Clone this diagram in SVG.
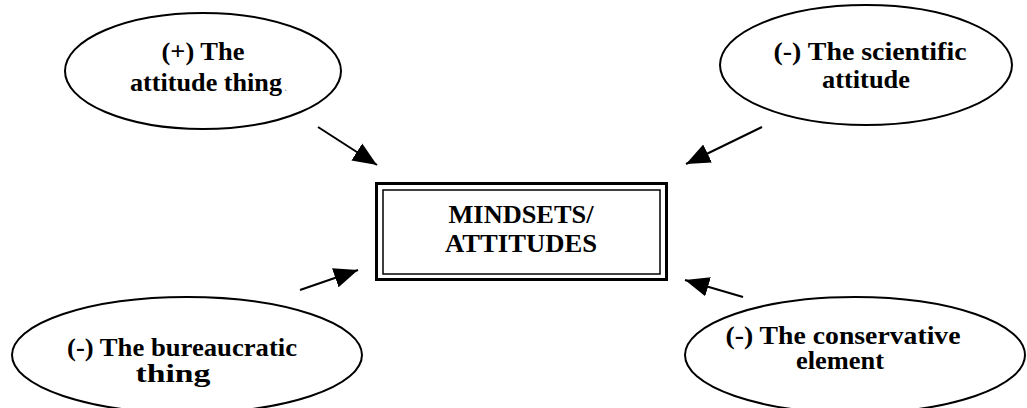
<svg xmlns="http://www.w3.org/2000/svg" width="1027" height="408" viewBox="0 0 1027 408">
<style>
.bg{fill:#fff}
.node ellipse{fill:#fff;stroke:#000;stroke-width:2}
.t{font-family:"Liberation Serif","Times New Roman",serif;font-weight:bold;font-size:25px;fill:#000;text-anchor:middle}
.conn line{stroke:#000;stroke-width:2;fill:none}
</style>
<defs>
<marker id="ah" markerUnits="userSpaceOnUse" markerWidth="26" markerHeight="22" viewBox="0 0 26 22" refX="24" refY="11" orient="auto">
<path d="M0,1 L24,11 L0,21 Z" fill="#000"/>
</marker>
</defs>
<rect class="bg" x="0" y="0" width="1027" height="408"/>
<g id="n-attitude-thing" class="node">
<ellipse cx="203" cy="71" rx="138" ry="58"/>
<text class="t" x="203" y="60" textLength="83" lengthAdjust="spacingAndGlyphs">(+) The</text>
<text class="t" x="206" y="91" textLength="152" lengthAdjust="spacingAndGlyphs">attitude thing</text>
<text x="284" y="91" font-family="Liberation Serif, serif" font-size="12" fill="#999">.</text>
</g>
<g id="n-scientific" class="node">
<ellipse cx="866" cy="65" rx="146" ry="60"/>
<text class="t" x="870" y="60" textLength="193" lengthAdjust="spacingAndGlyphs">(-) The scientific</text>
<text class="t" x="866" y="88" textLength="88" lengthAdjust="spacingAndGlyphs">attitude</text>
</g>
<g id="n-mindsets" class="node">
<rect x="376.5" y="183.5" width="290" height="96" fill="#fff" stroke="#000" stroke-width="3"/>
<rect x="383" y="190" width="277" height="84" fill="none" stroke="#000" stroke-width="1.5"/>
<text class="t" x="521" y="223" textLength="145" lengthAdjust="spacingAndGlyphs">MINDSETS/</text>
<text class="t" x="521" y="252" textLength="152" lengthAdjust="spacingAndGlyphs">ATTITUDES</text>
</g>
<g id="n-bureaucratic" class="node">
<ellipse cx="187" cy="355" rx="175" ry="58"/>
<text class="t" x="182" y="356" textLength="230" lengthAdjust="spacingAndGlyphs">(-) The bureaucratic</text>
<text class="t" x="173" y="382" textLength="75" lengthAdjust="spacingAndGlyphs">thing</text>
</g>
<g id="n-conservative" class="node">
<ellipse cx="855" cy="355" rx="170" ry="58"/>
<text class="t" x="843" y="344" textLength="235" lengthAdjust="spacingAndGlyphs">(-) The conservative</text>
<text class="t" x="840" y="369" textLength="88" lengthAdjust="spacingAndGlyphs">element</text>
</g>
<g id="connectors" class="conn">
<line x1="318" y1="127" x2="377" y2="165" marker-end="url(#ah)"/>
<line x1="762" y1="127" x2="686" y2="164" marker-end="url(#ah)"/>
<line x1="300" y1="290" x2="358" y2="270" marker-end="url(#ah)"/>
<line x1="743" y1="297" x2="685" y2="280" marker-end="url(#ah)"/>
</g>
</svg>
